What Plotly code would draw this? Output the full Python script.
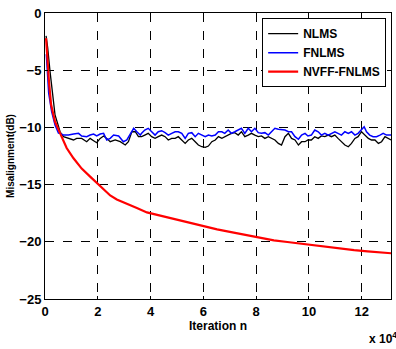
import plotly.graph_objects as go

# iteration axis in units of 1e4
nlms_x = [0.04, 0.10, 0.19, 0.29, 0.38, 0.51, 0.57, 0.70, 0.89, 1.08, 1.20, 1.39, 1.58, 1.71, 1.84, 1.96,
          2.09, 2.22, 2.34, 2.47, 2.66, 2.85, 3.04, 3.16, 3.29, 3.42, 3.54, 3.66, 3.78, 3.91, 4.04, 4.17,
          4.29, 4.42, 4.55, 4.67, 4.80, 4.93, 5.05, 5.18, 5.31, 5.43, 5.56, 5.69, 5.81, 5.94, 6.07, 6.19,
          6.32, 6.45, 6.57, 6.70, 6.81, 6.94, 7.06, 7.19, 7.32, 7.44, 7.57, 7.70, 7.82, 7.95, 8.08, 8.20,
          8.33, 8.46, 8.58, 8.71, 8.84, 8.96, 9.09, 9.22, 9.34, 9.47, 9.60, 9.72, 9.85, 9.96, 10.09, 10.22,
          10.35, 10.47, 10.60, 10.73, 10.85, 10.98, 11.10, 11.23, 11.36, 11.49, 11.61, 11.74, 11.86, 11.99,
          12.12, 12.25, 12.37, 12.50, 12.63, 12.75, 12.88, 13.01, 13.11]
nlms_y = [-2.0, -3.0, -5.1, -7.2, -8.9, -9.9, -10.38, -10.81, -10.96, -11.10, -10.96, -10.96, -11.25, -10.96,
          -11.16, -11.34, -10.96, -10.75, -10.96, -11.25, -11.10, -11.25, -11.54, -11.25, -10.38, -10.38,
          -10.81, -10.81, -10.67, -10.52, -10.81, -10.96, -10.81, -10.67, -10.81, -11.10, -10.96, -10.96,
          -10.81, -11.10, -11.40, -11.10, -10.96, -11.25, -11.54, -11.69, -11.74, -11.63, -11.25, -11.10,
          -10.81, -10.96, -10.81, -10.67, -10.52, -10.46, -10.67, -10.38, -10.81, -10.67, -10.52, -10.67,
          -10.81, -10.75, -10.96, -10.81, -10.96, -11.10, -11.40, -11.54, -10.81, -10.52, -10.96, -11.10,
          -11.54, -11.25, -11.25, -11.10, -11.10, -10.81, -10.96, -10.75, -10.81, -10.67, -10.81, -10.67,
          -10.96, -11.25, -11.54, -11.69, -11.40, -10.96, -10.81, -10.38, -10.67, -10.96, -11.10, -11.10,
          -11.40, -11.25, -10.81, -10.96, -11.10]

fnlms_x = [0.05, 0.10, 0.14, 0.25, 0.38, 0.51, 0.57, 0.70, 0.89, 1.08, 1.27, 1.39, 1.58, 1.71, 1.84, 1.96,
           2.09, 2.22, 2.34, 2.47, 2.60, 2.79, 2.97, 3.10, 3.23, 3.36, 3.48, 3.61, 3.66, 3.78, 3.91, 4.04,
           4.17, 4.29, 4.42, 4.55, 4.67, 4.80, 4.93, 5.05, 5.18, 5.31, 5.43, 5.56, 5.69, 5.81, 5.94, 6.07,
           6.19, 6.32, 6.45, 6.57, 6.70, 6.81, 6.94, 7.06, 7.19, 7.32, 7.44, 7.57, 7.70, 7.82, 7.95, 8.08,
           8.20, 8.33, 8.46, 8.58, 8.71, 8.84, 8.96, 9.09, 9.22, 9.34, 9.47, 9.60, 9.72, 9.85, 9.96, 10.09,
           10.22, 10.35, 10.47, 10.60, 10.73, 10.85, 10.98, 11.10, 11.23, 11.36, 11.49, 11.61, 11.74, 11.86,
           11.99, 12.09, 12.18, 12.30, 12.43, 12.56, 12.69, 12.81, 12.94, 13.07, 13.11]
fnlms_y = [-3.6, -5.5, -7.0, -8.6, -9.8, -10.5, -10.52, -10.67, -10.67, -10.58, -10.52, -10.75, -10.81,
           -10.67, -10.58, -10.75, -10.58, -10.52, -11.10, -10.96, -10.67, -10.75, -11.25, -11.10, -10.52,
           -10.08, -10.38, -10.67, -10.52, -10.23, -10.08, -10.38, -10.67, -10.38, -10.29, -10.46, -10.67,
           -10.52, -10.38, -10.38, -10.52, -10.96, -10.52, -10.46, -10.81, -10.52, -10.67, -10.81, -10.67,
           -10.75, -10.67, -10.38, -10.38, -10.52, -10.23, -10.52, -10.38, -10.23, -10.08, -10.52, -10.08,
           -10.38, -10.08, -10.46, -10.52, -10.46, -10.67, -10.38, -10.08, -10.17, -10.23, -10.23, -10.38,
           -10.38, -10.81, -11.04, -10.67, -10.52, -10.75, -10.67, -10.23, -10.38, -10.67, -10.52, -10.67,
           -10.52, -10.38, -10.52, -10.67, -10.38, -10.52, -10.38, -10.67, -10.52, -10.23, -9.94, -10.38,
           -10.67, -10.81, -10.81, -10.67, -10.52, -10.67, -10.67, -10.67]

nvff_x = [0.04, 0.09, 0.15, 0.23, 0.38, 0.57, 0.82, 1.08, 1.39, 1.71, 2.0, 2.09, 2.47, 2.72, 3.10, 3.48,
          3.86, 4.11, 4.62, 5.13, 5.51, 5.89, 6.52, 7.15, 7.79, 8.17, 8.67, 9.18, 9.68, 10.19, 10.70,
          11.20, 11.71, 12.22, 12.72, 13.11]
nvff_y = [-2.2, -4.0, -6.0, -8.0, -9.5, -10.5, -11.8, -12.7, -13.6, -14.3, -14.95, -15.18, -15.95, -16.3,
          -16.65, -17.05, -17.43, -17.57, -17.86, -18.15, -18.39, -18.62, -18.91, -19.2, -19.49, -19.72,
          -19.88, -20.02, -20.17, -20.32, -20.46, -20.6, -20.72, -20.83, -20.91, -21.0]

x_ticks = [0, 2, 4, 6, 8, 10, 12]
y_ticks = [0, -5, -10, -15, -20, -25]

font_family = "Arial, Liberation Sans, sans-serif"

fig = go.Figure()
fig.add_trace(go.Scatter(x=nlms_x, y=nlms_y, mode="lines", name="NLMS",
                         line=dict(color="black", width=1.3)))
fig.add_trace(go.Scatter(x=fnlms_x, y=fnlms_y, mode="lines", name="FNLMS",
                         line=dict(color="#0000ff", width=1.5)))
fig.add_trace(go.Scatter(x=nvff_x, y=nvff_y, mode="lines", name="NVFF-FNLMS",
                         line=dict(color="#ff0000", width=2.2)))

axis_common = dict(showline=True, linecolor="black", linewidth=1, mirror=True,
                   showgrid=True, gridcolor="black", griddash="dash", gridwidth=1,
                   zeroline=False, ticks="inside", ticklen=3, tickcolor="black",
                   tickfont=dict(family=font_family, size=13, color="black", weight="bold"))

fig.update_xaxes(range=[0, 13.1072], tickvals=x_ticks,
                 title=dict(text="Iteration n", standoff=4,
                            font=dict(family=font_family, size=12, color="black", weight="bold")),
                 **axis_common)
fig.update_yaxes(range=[-25, 0], tickvals=y_ticks,
                 title=dict(text="Misalignment(dB)", standoff=2,
                            font=dict(family=font_family, size=10, color="black", weight="bold")),
                 **axis_common)

fig.add_annotation(text="x 10<sup>4</sup>", xref="paper", yref="paper", x=1.022, y=-0.1,
                   xanchor="right", yanchor="top", showarrow=False,
                   font=dict(family=font_family, size=12, color="black", weight="bold"))

fig.update_layout(
    width=396, height=349,
    margin=dict(l=45, r=5, t=13, b=50),
    paper_bgcolor="white", plot_bgcolor="white",
    showlegend=True,
    legend=dict(x=0.986, y=0.982, xanchor="right", yanchor="top",
                bgcolor="white", bordercolor="black", borderwidth=1,
                itemwidth=30, tracegroupgap=0, traceorder="normal",
                font=dict(family=font_family, size=12, color="black", weight="bold")),
)

fig.write_html("out.html", config={"displayModeBar": False},
               post_script="document.body.style.margin='0';")
